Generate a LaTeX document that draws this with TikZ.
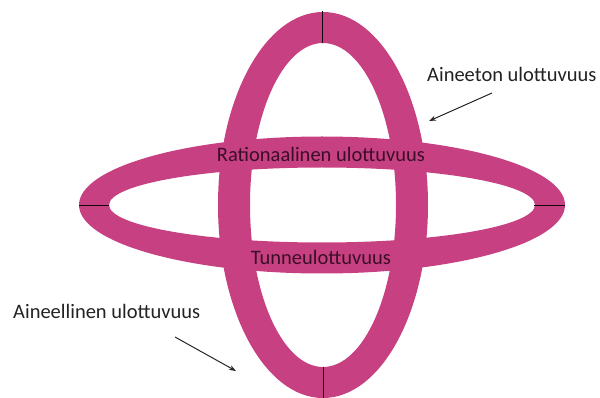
\documentclass[tikz,border=0pt]{standalone}
\usepackage{fontspec}
\setmainfont{Carlito}
\usetikzlibrary{arrows.meta}
\definecolor{ringpink}{RGB}{199,64,129}
\definecolor{innertext}{RGB}{58,14,40}
\definecolor{outertext}{RGB}{34,34,34}
\tikzset{
  ring/.style={fill=ringpink, even odd rule, draw=none},
  tick/.style={draw=black!90!ringpink, line width=0.9pt},
  inlabel/.style={anchor=base, inner sep=0pt, text=innertext, font=\fontsize{20.5}{24}\selectfont},
  outlabel/.style={inner sep=0pt, text=outertext, font=\fontsize{20.5}{24}\selectfont},
  pointer/.style={draw=black!85, line width=1pt, -{Stealth[length=7pt,width=5pt]}}
}
\begin{document}
\begin{tikzpicture}[x=1pt,y=-1pt]
\useasboundingbox (0,0) rectangle (600,398);
% vertical ring
\path[ring] (323,205) ellipse [x radius=105pt, y radius=193pt]
            (323,205) ellipse [x radius=73pt, y radius=162pt];
% horizontal ring
\path[ring] (322,205) ellipse [x radius=243pt, y radius=68.5pt]
            (322,205) ellipse [x radius=213pt, y radius=37.5pt];
% ticks
\coordinate (tt1) at (322,11);  \coordinate (tt2) at (322,43);
\coordinate (tb1) at (323,367); \coordinate (tb2) at (323,398);
\coordinate (tl1) at (79,205);  \coordinate (tl2) at (109,205);
\coordinate (tr1) at (534,205); \coordinate (tr2) at (565,205);
\draw[tick] (tt1) -- (tt2);
\draw[tick] (tb1) -- (tb2);
\draw[tick] (tl1) -- (tl2);
\draw[tick] (tr1) -- (tr2);
% inner labels
\node[inlabel] (rat) at (321,162) {Rationaalinen ulottuvuus};
\node[inlabel] (tun) at (321,265) {Tunneulottuvuus};
% outer labels
\node[outlabel, anchor=base west] (ain) at (427,82) {Aineeton ulottuvuus};
\node[outlabel, anchor=base west] (ael) at (13,318) {Aineellinen ulottuvuus};
% arrows
\coordinate (a1s) at (492,93);  \coordinate (a1e) at (429,121);
\coordinate (a2s) at (175,337); \coordinate (a2e) at (236,371);
\draw[pointer] (a1s) -- (a1e);
\draw[pointer] (a2s) -- (a2e);
\end{tikzpicture}
\end{document}
